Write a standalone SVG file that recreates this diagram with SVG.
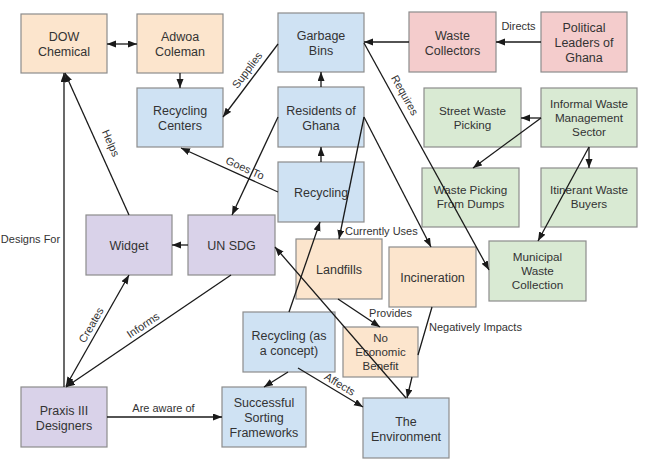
<svg xmlns="http://www.w3.org/2000/svg" width="651" height="468" viewBox="0 0 651 468">
<style>
  .n rect { stroke: #8c8c8c; stroke-width: 1.2; }
  .o rect { fill: #fce5cd; }
  .b rect { fill: #cfe2f3; }
  .r rect { fill: #f4cccc; }
  .g rect { fill: #d9ead3; }
  .p rect { fill: #d9d2e9; }
  .n text { font-family: "Liberation Sans", Arial, sans-serif; font-size: 12.5px; fill: #333; text-anchor: middle; }
  .g text { font-size: 11.7px; }
  .sm text { font-size: 11.5px; }
  .c path { stroke: #1a1a1a; stroke-width: 1.3; fill: none; marker-end: url(#ah); }
  .c path.d { marker-start: url(#ah); }
  .lbl text { font-family: "Liberation Sans", Arial, sans-serif; font-size: 11px; fill: #333; }
  .lbl .m { text-anchor: middle; }
</style>
<defs>
  <marker id="ah" markerUnits="userSpaceOnUse" markerWidth="10" markerHeight="8" refX="9" refY="3.5" orient="auto-start-reverse">
    <path d="M0,0 L9,3.5 L0,7 z" fill="#1a1a1a"/>
  </marker>
</defs>
<rect width="651" height="468" fill="#ffffff"/>

<g id="dow" class="n o"><rect x="21" y="14" width="86" height="59"/><text x="64" y="41">DOW</text><text x="64" y="56">Chemical</text></g>
<g id="adwoa" class="n o"><rect x="137" y="14" width="86" height="59"/><text x="180" y="41">Adwoa</text><text x="180" y="56">Coleman</text></g>
<g id="recycling-centers" class="n b"><rect x="137" y="88" width="86" height="59"/><text x="180" y="115">Recycling</text><text x="180" y="130">Centers</text></g>
<g id="garbage-bins" class="n b"><rect x="278" y="13" width="86" height="59"/><text x="321" y="40">Garbage</text><text x="321" y="55">Bins</text></g>
<g id="residents" class="n b"><rect x="278" y="87" width="86" height="60"/><text x="321" y="114.5">Residents of</text><text x="321" y="129.5">Ghana</text></g>
<g id="recycling" class="n b"><rect x="278" y="162" width="86" height="60"/><text x="321" y="197">Recycling</text></g>
<g id="un-sdg" class="n p"><rect x="188" y="215" width="87" height="60"/><text x="231.5" y="250">UN SDG</text></g>
<g id="widget" class="n p"><rect x="86" y="215" width="86" height="60"/><text x="129" y="250">Widget</text></g>
<g id="praxis" class="n p"><rect x="21" y="387" width="86" height="60"/><text x="64" y="414.5">Praxis III</text><text x="64" y="429.5">Designers</text></g>
<g id="sorting" class="n b"><rect x="222" y="387" width="84" height="60"/><text x="264" y="407">Successful</text><text x="264" y="422">Sorting</text><text x="264" y="437">Frameworks</text></g>
<g id="recycling-concept" class="n b"><rect x="243" y="312" width="92" height="60"/><text x="289" y="339.5">Recycling (as</text><text x="289" y="354.5">a concept)</text></g>
<g id="landfills" class="n o"><rect x="296" y="239" width="86" height="60"/><text x="339" y="274">Landfills</text></g>
<g id="incineration" class="n o"><rect x="389" y="247" width="87" height="60"/><text x="432.5" y="282">Incineration</text></g>
<g id="no-benefit" class="n o sm"><rect x="343" y="327" width="75" height="50"/><text x="380.5" y="342">No</text><text x="380.5" y="356">Economic</text><text x="380.5" y="370">Benefit</text></g>
<g id="environment" class="n b"><rect x="363" y="398" width="86" height="60"/><text x="406" y="425.5">The</text><text x="406" y="440.5">Environment</text></g>
<g id="municipal" class="n g"><rect x="489" y="241" width="97" height="60"/><text x="537.5" y="261">Municipal</text><text x="537.5" y="275">Waste</text><text x="537.5" y="289">Collection</text></g>
<g id="waste-collectors" class="n r"><rect x="409" y="12" width="87" height="60"/><text x="452.5" y="39.5">Waste</text><text x="452.5" y="54.5">Collectors</text></g>
<g id="political-leaders" class="n r"><rect x="541" y="12" width="86" height="60"/><text x="584" y="31.5">Political</text><text x="584" y="46.5">Leaders of</text><text x="584" y="61.5">Ghana</text></g>
<g id="street-picking" class="n g"><rect x="424" y="88" width="97" height="59"/><text x="472.5" y="115">Street Waste</text><text x="472.5" y="129">Picking</text></g>
<g id="informal-sector" class="n g"><rect x="541" y="88" width="96" height="59"/><text x="589" y="108">Informal Waste</text><text x="589" y="122">Management</text><text x="589" y="136">Sector</text></g>
<g id="dump-picking" class="n g"><rect x="422" y="168" width="97" height="59"/><text x="470.5" y="194">Waste Picking</text><text x="470.5" y="208">From Dumps</text></g>
<g id="itinerant" class="n g"><rect x="541" y="168" width="96" height="59"/><text x="589" y="194">Itinerant Waste</text><text x="589" y="208">Buyers</text></g>

<g id="connectors" class="c">
  <path class="d" d="M107,44 L137,44"/>
  <path d="M180,73 L180,88"/>
  <path d="M278,44 L223,117"/>
  <path d="M321,87 L321,72"/>
  <path d="M321,162 L321,147"/>
  <path d="M278,192 L181,148"/>
  <path d="M278,117 L232,215"/>
  <path d="M364,117 L339,239"/>
  <path d="M364,117 L431,247"/>
  <path d="M364,43 L489,270"/>
  <path d="M409,42 L364,42"/>
  <path d="M541,42 L496,42"/>
  <path d="M541,118 L521,118"/>
  <path d="M541,118 L473,168"/>
  <path d="M589,147 L589,168"/>
  <path d="M589,147 L538,241"/>
  <path d="M129,215 L65,73"/>
  <path d="M64,387 L64,73"/>
  <path class="d" d="M66,386 L129,275"/>
  <path d="M231,275 L66,387"/>
  <path d="M188,245 L172,245"/>
  <path d="M107,417 L222,417"/>
  <path d="M288,372 L264,387"/>
  <path d="M298,368 L363,407"/>
  <path d="M289,312 L320,222"/>
  <path d="M406,398 L275,247"/>
  <path d="M338,299 L380,327"/>
  <path d="M432,307 L418,355 M412,377 L407,398"/>
</g>

<g id="labels" class="lbl">
  <text class="m" transform="translate(247,70) rotate(-53)" y="4">Supplies</text>
  <text class="m" transform="translate(245,168) rotate(24)" y="4">Goes To</text>
  <text class="m" transform="translate(405,95) rotate(61)" y="4">Requires</text>
  <text class="m" x="518.5" y="30">Directs</text>
  <text class="m" transform="translate(111,143) rotate(66)" y="4">Helps</text>
  <text class="m" x="30.5" y="243">Designs For</text>
  <text class="m" transform="translate(91,325) rotate(-60)" y="4">Creates</text>
  <text class="m" transform="translate(143,325) rotate(-34)" y="4">Informs</text>
  <text class="m" x="163.5" y="412">Are aware of</text>
  <text class="m" transform="translate(340,384) rotate(31)" y="4">Affects</text>
  <text x="345" y="235">Currently Uses</text>
  <text class="m" x="390.5" y="317">Provides</text>
  <text x="429" y="331">Negatively Impacts</text>
</g>
</svg>
